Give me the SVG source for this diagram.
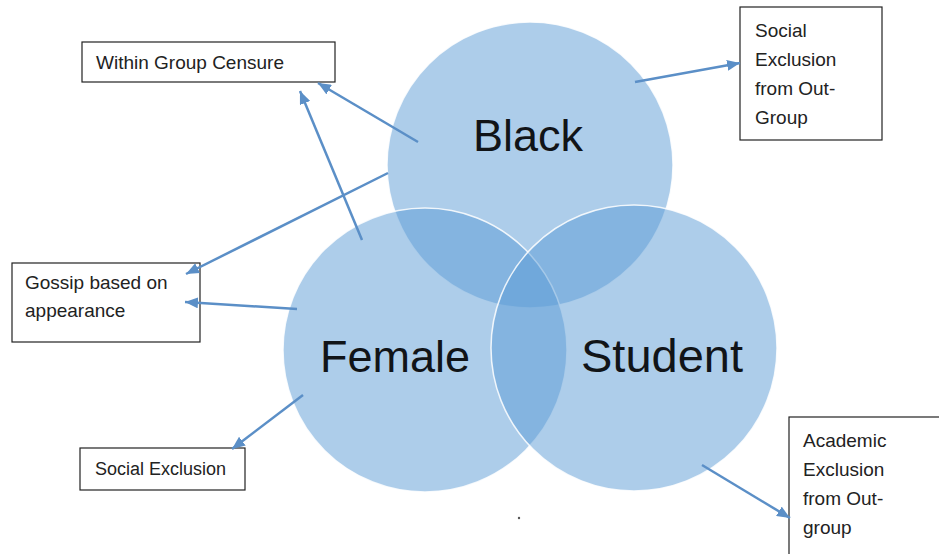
<svg xmlns="http://www.w3.org/2000/svg" width="939" height="554" viewBox="0 0 939 554">
  <defs>
    <style>
      .set { fill: #5b9bd5; fill-opacity: 0.5; stroke: #ffffff; stroke-width: 1.5; stroke-opacity: 0.85; }
      .setlabel { font-family: "Liberation Sans", Arial, sans-serif; font-size: 45px; fill: #111418; text-anchor: middle; }
      .box { fill: #ffffff; stroke: #222222; stroke-width: 1.2; }
      .boxtext { font-family: "Liberation Sans", Arial, sans-serif; font-size: 19px; fill: #222222; }
      .arrow { stroke: #5b8fc7; stroke-width: 2.5; fill: none; marker-end: url(#head); }
    </style>
    <marker id="head" markerUnits="userSpaceOnUse" markerWidth="13" markerHeight="11" refX="13" refY="5.5" orient="auto">
      <path d="M0,0 L13,5.5 L0,11 Z" fill="#5b8fc7"/>
    </marker>
  </defs>

  <rect width="939" height="554" fill="#ffffff"/>

  <!-- Venn sets -->
  <g id="set-black">
    <circle class="set" cx="530" cy="165" r="143"/>
  </g>
  <g id="set-female">
    <circle class="set" cx="425" cy="350" r="142"/>
  </g>
  <g id="set-student">
    <circle class="set" cx="634" cy="348" r="143"/>
  </g>
  <g id="set-labels">
    <text class="setlabel" x="528" y="151">Black</text>
    <text class="setlabel" x="395" y="372">Female</text>
    <text class="setlabel" x="662" y="372" style="font-size:47px">Student</text>
  </g>

  <!-- Outcome boxes -->
  <g id="box-censure">
    <rect class="box" x="82" y="42" width="253" height="40"/>
    <text class="boxtext" x="96" y="69">Within Group Censure</text>
  </g>
  <g id="box-social-outgroup">
    <rect class="box" x="740" y="7" width="142" height="133"/>
    <text class="boxtext" x="755" y="37">Social</text>
    <text class="boxtext" x="755" y="66">Exclusion</text>
    <text class="boxtext" x="755" y="95">from Out-</text>
    <text class="boxtext" x="755" y="124">Group</text>
  </g>
  <g id="box-gossip">
    <rect class="box" x="12" y="263" width="188" height="79"/>
    <text class="boxtext" x="25" y="289">Gossip based on</text>
    <text class="boxtext" x="25" y="317">appearance</text>
  </g>
  <g id="box-social">
    <rect class="box" x="80" y="448" width="165" height="42"/>
    <text class="boxtext" x="95" y="475" style="font-size:18px">Social Exclusion</text>
  </g>
  <g id="box-academic">
    <rect class="box" x="789" y="417" width="170" height="160"/>
    <text class="boxtext" x="803" y="447">Academic</text>
    <text class="boxtext" x="803" y="476">Exclusion</text>
    <text class="boxtext" x="803" y="505">from Out-</text>
    <text class="boxtext" x="803" y="534">group</text>
  </g>

  <!-- Connectors -->
  <g id="connectors">
    <line class="arrow" x1="418" y1="142" x2="318" y2="83"/>
    <line class="arrow" x1="362" y1="240" x2="300" y2="91"/>
    <line class="arrow" x1="388" y1="173" x2="186" y2="274"/>
    <line class="arrow" x1="297" y1="309" x2="185" y2="302"/>
    <line class="arrow" x1="303" y1="395" x2="232" y2="449"/>
    <line class="arrow" x1="635" y1="82" x2="740" y2="63"/>
    <line class="arrow" x1="702" y1="465" x2="790" y2="518"/>
  </g>

  <!-- stray speck below the sets -->
  <circle cx="519" cy="518" r="1.2" fill="#555555"/>
</svg>
